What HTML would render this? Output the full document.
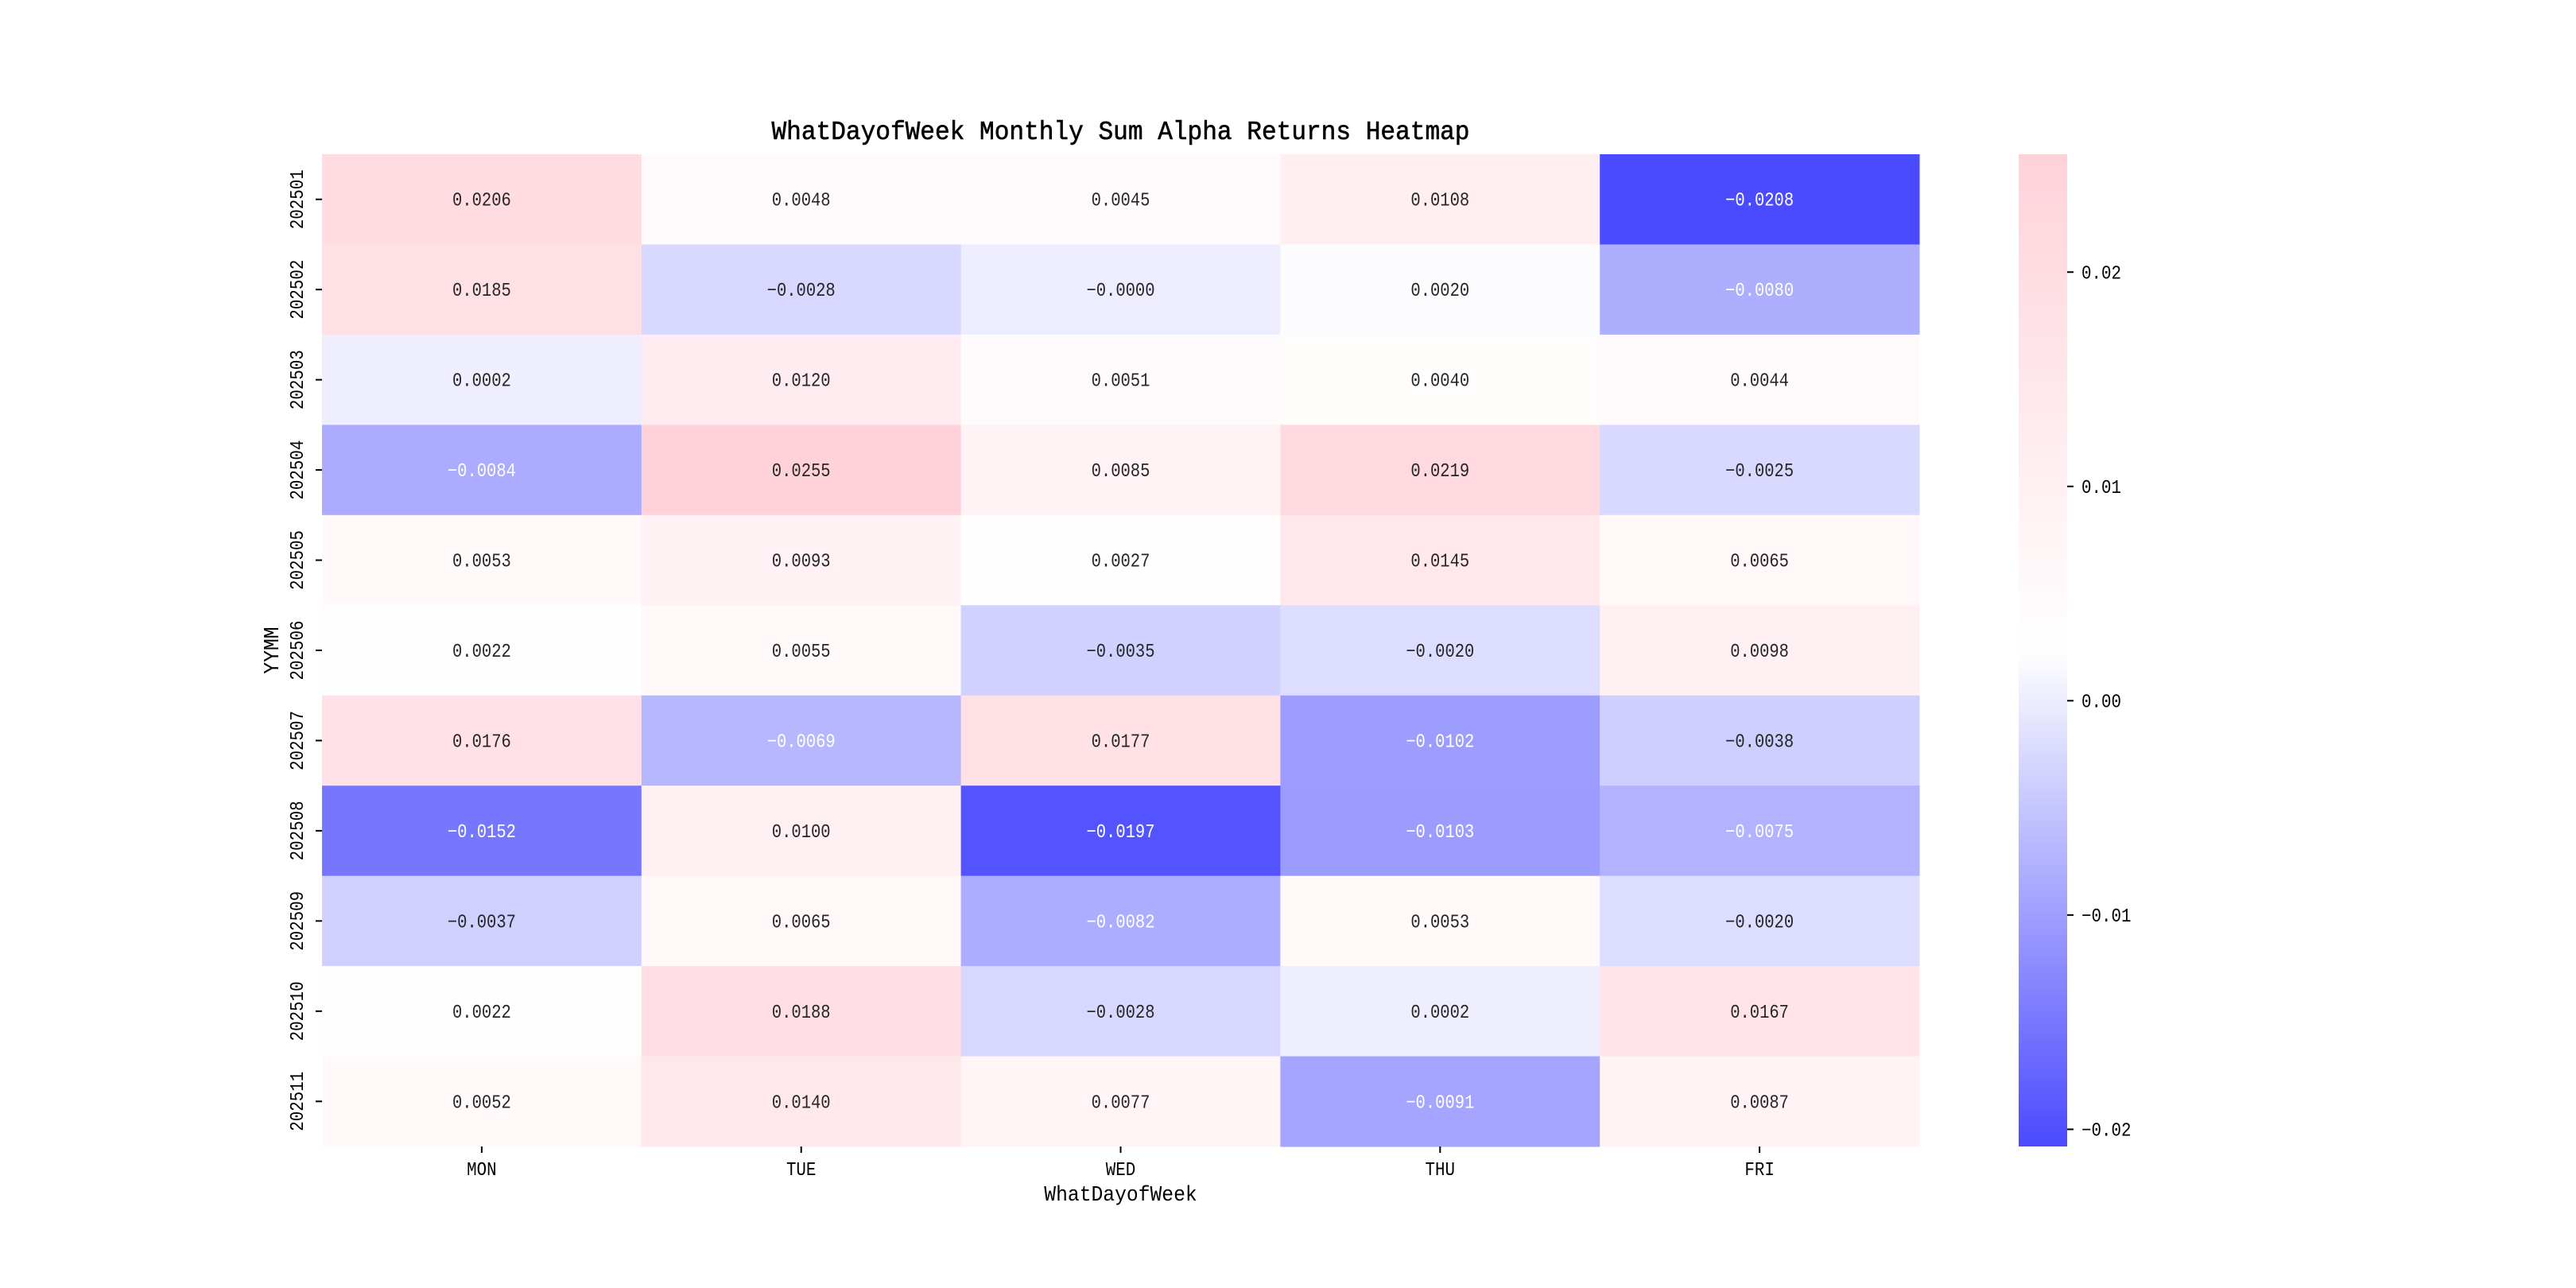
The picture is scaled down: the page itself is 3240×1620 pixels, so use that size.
<!DOCTYPE html>
<html><head><meta charset="utf-8"><style>html,body{margin:0;padding:0;background:#fff}svg{display:block}text{font-family:"Liberation Mono","Noto Sans CJK SC",monospace}</style></head>
<body>
<svg id="chart" width="3240" height="1620" viewBox="0 0 3240 1620" xmlns="http://www.w3.org/2000/svg">
<defs><linearGradient id="cbg" x1="0" y1="1" x2="0" y2="0"><stop offset="0" stop-color="#4a4aff"/><stop offset="0.5" stop-color="#ffffff"/><stop offset="1" stop-color="#ffd2da"/></linearGradient></defs>
<g id="cells"></g>
<g id="axes"></g>
</svg>
<script>
const days = ["MON","TUE","WED","THU","FRI"];
const months = ["202501","202502","202503","202504","202505","202506","202507","202508","202509","202510","202511"];
const valMON = [0.0206,0.0185,0.0002,-0.0084,0.0053,0.0022,0.0176,-0.0152,-0.0037,0.0022,0.0052];
const valTUE = [0.0048,-0.0028,0.0120,0.0255,0.0093,0.0055,-0.0069,0.0100,0.0065,0.0188,0.0140];
const valWED = [0.0045,-0.0000,0.0051,0.0085,0.0027,-0.0035,0.0177,-0.0197,-0.0082,-0.0028,0.0077];
const valTHU = [0.0108,0.0020,0.0040,0.0219,0.0145,-0.0020,-0.0102,-0.0103,0.0053,0.0002,-0.0091];
const valFRI = [-0.0208,-0.0080,0.0044,-0.0025,0.0065,0.0098,-0.0038,-0.0075,-0.0020,0.0167,0.0087];
const cbTicks = [0.02,0.01,0.00,-0.01,-0.02];
const cbTickLabels = ["0.02","0.01","0.00","\u22120.01","\u22120.02"];

const series=[valMON,valTUE,valWED,valTHU,valFRI];
const L=405,R=2414,T=194,B=1442;
const cw=(R-L)/days.length, rh=(B-T)/months.length;
const all=series.flat();
const vmin=Math.min(...all), vmax=Math.max(...all);
const NS="http://www.w3.org/2000/svg";
function xPos(i){return L+i*cw;}
function yPos(j){return T+j*rh;}
const CBL=2539,CBR=2600;
function cbY(v){return B-(v-vmin)/(vmax-vmin)*(B-T);}
function color(v){
  const t=(v-vmin)/(vmax-vmin);
  const lo=[74,74,255],mid=[255,255,255],hi=[255,210,218];
  let a,b,s; if(t<0.5){a=lo;b=mid;s=t/0.5;}else{a=mid;b=hi;s=(t-0.5)/0.5;}
  return a.map((c,k)=>Math.round(c+(b[k]-c)*s));
}
function lum(c){const f=c.map(x=>{x/=255;return x<=0.03928?x/12.92:Math.pow((x+0.055)/1.055,2.4)});return 0.2126*f[0]+0.7152*f[1]+0.0722*f[2];}
function mk(tag,attrs,parent,txt){const e=document.createElementNS(NS,tag);for(const k in attrs)e.setAttribute(k,attrs[k]);if(txt!==undefined)e.textContent=txt;parent.appendChild(e);return e;}
const cells=document.getElementById('cells'), axes=document.getElementById('axes');
function fmt(v){const neg=(v<0||1/v<0);return (neg?"\u2212":"")+Math.abs(v).toFixed(4);}
series.forEach((vals,i)=>{vals.forEach((v,j)=>{
  const c=color(v);
  const r=mk('rect',{x:xPos(i),y:yPos(j),width:cw+0.5,height:rh+0.5,fill:`rgb(${c.join(',')})`},cells);
  
  
  const s=fmt(v);
  const t=mk('text',{x:xPos(i)+cw/2,y:yPos(j)+rh/2+8,'text-anchor':'middle','font-size':24,fill:lum(c)>0.6?'#262626':'#ffffff',textLength:s.length*12.3,lengthAdjust:'spacingAndGlyphs'},cells,s);
  
  
});});
days.forEach((d,i)=>{
  const x=xPos(i)+cw/2;
  const tk=mk('line',{x1:x,y1:B,x2:x,y2:B+8,stroke:'#000','stroke-width':2},axes);
  
  
  const t=mk('text',{x:x,y:B+36,'text-anchor':'middle','font-size':24,textLength:d.length*12.5,lengthAdjust:'spacingAndGlyphs'},axes,d);
  
  
});
months.forEach((m,j)=>{
  const y=yPos(j)+rh/2;
  const tk=mk('line',{x1:L-8,y1:y,x2:L,y2:y,stroke:'#000','stroke-width':2},axes);
  
  
  const t=mk('text',{x:0,y:0,transform:`translate(381,${y}) rotate(-90)`,'text-anchor':'middle','font-size':24,textLength:m.length*12.5,lengthAdjust:'spacingAndGlyphs'},axes,m);
  
  
});
const cb=mk('rect',{x:CBL,y:T,width:CBR-CBL,height:B-T,fill:'url(#cbg)'},axes);


cbTicks.forEach((v,k)=>{
  const y=cbY(v);
  const tk=mk('line',{x1:CBR,y1:y,x2:CBR+8,y2:y,stroke:'#000','stroke-width':2},axes);
  
  
  const s=cbTickLabels[k];
  const t=mk('text',{x:CBR+18,y:y+8,'font-size':24,textLength:s.length*12.5,lengthAdjust:'spacingAndGlyphs'},axes,s);
  
  
});
const title=mk('text',{x:(L+R)/2,y:175,'text-anchor':'middle','font-size':33,stroke:'#000','stroke-width':0.6,textLength:878,lengthAdjust:'spacingAndGlyphs'},axes,'WhatDayofWeek Monthly Sum Alpha Returns Heatmap');


const xl=mk('text',{x:(L+R)/2,y:1510,'text-anchor':'middle','font-size':27,textLength:13*14.8,lengthAdjust:'spacingAndGlyphs'},axes,'WhatDayofWeek');


const yl=mk('text',{x:0,y:0,transform:`translate(350,${(T+B)/2}) rotate(-90)`,'text-anchor':'middle','font-size':27,textLength:4*14.8,lengthAdjust:'spacingAndGlyphs'},axes,'YYMM');


</script>
</body></html>
